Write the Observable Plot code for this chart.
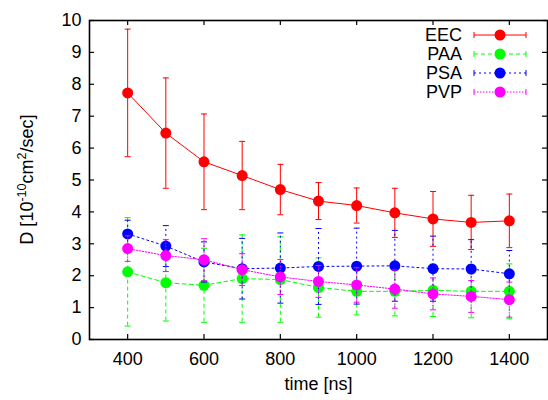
<!DOCTYPE html>
<html><head><meta charset="utf-8">
<script src="https://cdn.jsdelivr.net/npm/d3@7"></script>
<script src="https://cdn.jsdelivr.net/npm/@observablehq/plot@0.6"></script>
<style>
html,body{margin:0;padding:0;background:#fff;}
#chart svg{display:block;}
</style>
</head><body><div id="chart"></div>
<script>
// ---- data ----
const times = [400, 500, 600, 700, 800, 900, 1000, 1100, 1200, 1300, 1400];
const seriesNames = ["EEC", "PAA", "PSA", "PVP"];
const eecMean = [7.73, 6.47, 5.57, 5.14, 4.70, 4.34, 4.20, 3.97, 3.78, 3.67, 3.72];
const eecErr  = [2.00, 1.73, 1.50, 1.07, 0.79, 0.58, 0.55, 0.77, 0.86, 0.85, 0.84];
const paaMean = [2.12, 1.78, 1.70, 1.91, 1.88, 1.63, 1.51, 1.51, 1.54, 1.51, 1.51];
const paaErr  = [1.70, 1.20, 1.16, 1.37, 1.34, 0.93, 0.74, 0.77, 0.82, 0.83, 0.86];
const psaMean = [3.31, 2.93, 2.43, 2.22, 2.24, 2.29, 2.30, 2.31, 2.22, 2.21, 2.06];
const psaErr  = [0.43, 0.64, 0.63, 0.95, 1.10, 1.19, 1.19, 1.11, 1.02, 0.92, 0.73];
const pvpMean = [2.85, 2.63, 2.50, 2.19, 1.96, 1.82, 1.71, 1.58, 1.43, 1.35, 1.25];
const pvpErr  = [0.40, 0.50, 0.66, 0.50, 0.55, 0.50, 0.54, 0.60, 0.50, 0.50, 0.55];
const xTicks = [400, 600, 800, 1000, 1200, 1400];
const yTicks = [0, 1, 2, 3, 4, 5, 6, 7, 8, 9, 10];
const xLabel = "time [ns]";

// ---- styles ----
const seriesColors = ["#ff0000", "#00ff00", "#0000ff", "#ff00ff"];
const seriesDash = [null, "4,3", "2,3", "1.5,1.5"];
const FONT = "'Liberation Sans', Arial, Helvetica, sans-serif";
const FS = 18;
const W = 548, H = 400, mL = 89, mR = 1, mT = 20, mB = 61;
const frameW = W - mL - mR, frameH = H - mT - mB, TICK = 5;

const means = [eecMean, paaMean, psaMean, pvpMean];
const errs = [eecErr, paaErr, psaErr, pvpErr];
const rowsBySeries = seriesNames.map((name, i) =>
  times.map((t, j) => ({series: name, x: t, y: means[i][j], err: errs[i][j]})));

const capSymbol = {draw(ctx, size) { const r = Math.sqrt(size / Math.PI); ctx.moveTo(-r, 0); ctx.lineTo(r, 0); }};

const marks = [];
rowsBySeries.forEach((rows, i) => {
  const stroke = seriesColors[i], dash = seriesDash[i];
  marks.push(
    Plot.ruleX(rows, {x: "x", y1: d => d.y - d.err, y2: d => d.y + d.err, stroke, strokeWidth: 1, strokeDasharray: dash}),
    Plot.dot(rows, {x: "x", y: d => d.y + d.err, symbol: capSymbol, r: 3, stroke, fill: "none", strokeWidth: 1}),
    Plot.dot(rows, {x: "x", y: d => d.y - d.err, symbol: capSymbol, r: 3, stroke, fill: "none", strokeWidth: 1}),
    Plot.line(rows, {x: "x", y: "y", stroke, strokeWidth: 1, strokeDasharray: dash}),
    Plot.dot(rows, {x: "x", y: "y", r: 5.5, fill: stroke, stroke: "none"})
  );
});

const chart = Plot.plot({
  width: W, height: H,
  marginLeft: mL, marginRight: mR, marginTop: mT, marginBottom: mB,
  x: {type: "linear", domain: [300, 1500], axis: null},
  y: {type: "linear", domain: [0, 10], axis: null},
  style: {fontFamily: FONT, fontSize: FS + "px", color: "black", background: "white", overflow: "visible"},
  marks: [
    ...marks,
    // inward ticks (bottom/top/left/right)
    Plot.tickX(xTicks, {x: d => d, insetTop: frameH - TICK, stroke: "black", strokeWidth: 1.2}),
    Plot.tickX(xTicks, {x: d => d, insetBottom: frameH - TICK, stroke: "black", strokeWidth: 1.2}),
    Plot.tickY(yTicks, {y: d => d, insetRight: frameW - TICK, stroke: "black", strokeWidth: 1.2}),
    Plot.tickY(yTicks, {y: d => d, insetLeft: frameW - TICK, stroke: "black", strokeWidth: 1.2}),
    Plot.axisX(xTicks, {anchor: "bottom", tickSize: 0, tickPadding: 13, fontSize: FS, label: null, tickFormat: d3.format("d")}),
    Plot.axisY(yTicks, {anchor: "left", tickSize: 0, tickPadding: 8, fontSize: FS, label: null, tickFormat: d3.format("d")}),
    Plot.text([xLabel], {frameAnchor: "bottom", dy: 50, fontSize: FS, fill: "black"}),
    Plot.frame({stroke: "black", strokeWidth: 1.6})
  ]
});
document.getElementById("chart").appendChild(chart);

// y-axis label with superscripts
const svg = d3.select(chart);
const yl = svg.append("text")
  .attr("transform", `translate(33,${mT + frameH / 2}) rotate(-90)`)
  .attr("text-anchor", "middle")
  .attr("font-family", FONT).attr("font-size", FS).attr("fill", "black");
yl.append("tspan").text("D [10");
yl.append("tspan").attr("dy", -7).attr("font-size", FS * 0.7).text("-10");
yl.append("tspan").attr("dy", 7).text("cm");
yl.append("tspan").attr("dy", -7).attr("font-size", FS * 0.7).text("2");
yl.append("tspan").attr("dy", 7).text("/sec]");

// legend (top-right, inside the frame)
const lg = svg.append("g").attr("font-family", FONT).attr("font-size", FS);
seriesNames.forEach((name, i) => {
  const cy = 35 + 19 * i;
  const c = seriesColors[i];
  lg.append("text").attr("x", 462).attr("y", cy).attr("dy", "0.35em")
    .attr("text-anchor", "end").attr("fill", "black").text(name);
  lg.append("line").attr("x1", 474).attr("x2", 526).attr("y1", cy).attr("y2", cy)
    .attr("stroke", c).attr("stroke-width", 1).attr("stroke-dasharray", seriesDash[i]);
  [474, 526].forEach(x => lg.append("line").attr("x1", x).attr("x2", x)
    .attr("y1", cy - 3).attr("y2", cy + 3).attr("stroke", c).attr("stroke-width", 1));
  lg.append("circle").attr("cx", 500).attr("cy", cy).attr("r", 5.5).attr("fill", c);
});
</script>
</body></html>
